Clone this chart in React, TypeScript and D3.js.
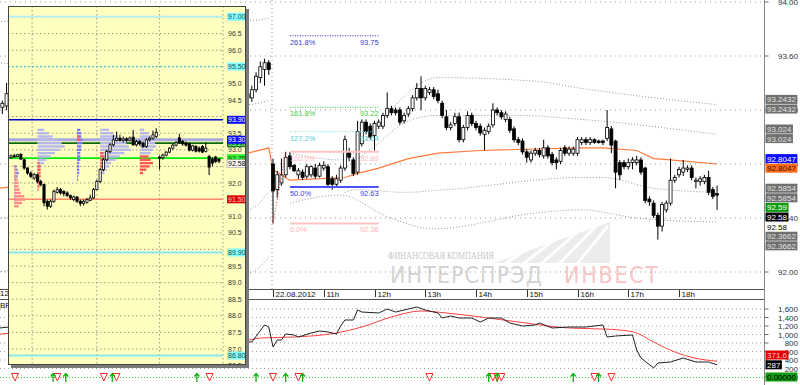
import React from "react";
import * as d3 from "d3";

const FONT = "'Liberation Sans', Arial, sans-serif";

// 5-minute bars of 22.08.2012, index 0 = 10:00; [open, high, low, close]
const dayBars: number[][] = [
  [92.80, 92.84, 92.36, 92.60], [92.61, 92.75, 92.55, 92.72], [92.66, 92.84, 92.64, 92.72], [92.72, 92.89, 92.70, 92.85],
  [92.86, 92.89, 92.76, 92.78], [92.79, 92.80, 92.74, 92.75], [92.72, 92.77, 92.69, 92.75], [92.74, 92.76, 92.68, 92.70],
  [92.71, 92.80, 92.69, 92.78], [92.72, 92.79, 92.70, 92.78], [92.77, 92.80, 92.69, 92.71], [92.71, 92.81, 92.70, 92.79],
  [92.77, 92.82, 92.75, 92.79], [92.78, 92.80, 92.63, 92.65], [92.69, 92.71, 92.61, 92.65], [92.65, 92.72, 92.63, 92.69],
  [92.68, 92.79, 92.66, 92.77], [92.77, 93.01, 92.75, 92.98], [92.89, 92.92, 92.82, 92.85], [92.83, 92.85, 92.71, 92.73],
  [92.74, 93.12, 92.72, 93.04], [92.95, 93.13, 92.93, 93.11], [93.11, 93.13, 93.02, 93.04], [93.08, 93.10, 92.98, 93.00],
  [93.01, 93.12, 92.90, 93.10], [93.08, 93.13, 93.06, 93.11], [93.08, 93.18, 93.06, 93.16], [93.16, 93.33, 93.14, 93.21],
  [93.21, 93.23, 93.16, 93.18], [93.20, 93.22, 93.16, 93.18], [93.20, 93.22, 93.09, 93.11], [93.12, 93.18, 93.10, 93.16],
  [93.17, 93.23, 93.15, 93.21], [93.21, 93.31, 93.19, 93.29], [93.29, 93.40, 93.27, 93.36], [93.36, 93.45, 93.20, 93.29],
  [93.29, 93.38, 93.27, 93.36], [93.33, 93.37, 93.31, 93.35], [93.35, 93.37, 93.28, 93.30], [93.32, 93.35, 93.25, 93.27],
  [93.25, 93.27, 93.14, 93.16], [93.15, 93.20, 93.05, 93.07], [93.07, 93.11, 93.05, 93.09], [93.10, 93.18, 93.08, 93.15],
  [93.15, 93.18, 92.96, 92.98], [92.98, 93.09, 92.96, 93.07], [93.07, 93.19, 93.05, 93.16], [93.16, 93.18, 93.08, 93.10],
  [93.10, 93.12, 93.05, 93.07], [93.08, 93.10, 93.01, 93.03], [93.02, 93.07, 92.90, 93.05], [93.04, 93.10, 93.02, 93.08],
  [93.09, 93.25, 93.07, 93.20], [93.20, 93.22, 93.16, 93.18], [93.18, 93.20, 93.13, 93.15], [93.13, 93.19, 93.11, 93.17],
  [93.13, 93.15, 93.03, 93.05], [93.06, 93.08, 92.96, 92.98], [92.98, 93.00, 92.94, 92.96], [92.97, 92.99, 92.87, 92.89],
  [92.89, 92.91, 92.81, 92.85], [92.83, 92.90, 92.81, 92.88], [92.88, 92.92, 92.86, 92.90], [92.90, 92.92, 92.85, 92.87],
  [92.86, 92.98, 92.84, 92.92], [92.92, 92.94, 92.84, 92.86], [92.87, 92.89, 92.79, 92.81], [92.83, 92.85, 92.76, 92.81],
  [92.82, 92.92, 92.80, 92.90], [92.92, 92.94, 92.86, 92.88], [92.88, 92.93, 92.86, 92.91], [92.88, 92.93, 92.86, 92.91],
  [92.88, 93.00, 92.86, 92.98], [92.96, 93.00, 92.94, 92.98], [92.98, 93.00, 92.94, 92.96], [92.96, 93.00, 92.94, 92.98],
  [92.98, 92.99, 92.95, 92.96], [92.97, 92.98, 92.95, 92.96], [92.97, 92.98, 92.94, 92.96], [92.99, 93.20, 92.97, 93.07],
  [93.06, 93.08, 92.88, 92.94], [92.97, 92.98, 92.62, 92.74], [92.81, 92.83, 92.68, 92.72], [92.81, 92.83, 92.76, 92.78],
  [92.78, 92.84, 92.76, 92.81], [92.81, 92.85, 92.76, 92.83], [92.81, 92.86, 92.79, 92.83], [92.83, 92.85, 92.72, 92.74],
  [92.77, 92.78, 92.51, 92.53], [92.54, 92.56, 92.49, 92.52], [92.51, 92.53, 92.40, 92.42], [92.42, 92.44, 92.24, 92.34],
  [92.34, 92.52, 92.30, 92.50], [92.46, 92.53, 92.44, 92.51], [92.51, 92.84, 92.49, 92.68], [92.68, 92.72, 92.66, 92.70],
  [92.72, 92.78, 92.70, 92.76], [92.74, 92.83, 92.71, 92.77], [92.76, 92.79, 92.74, 92.77], [92.77, 92.79, 92.68, 92.70],
  [92.67, 92.70, 92.62, 92.68], [92.67, 92.71, 92.64, 92.69], [92.67, 92.72, 92.65, 92.70], [92.70, 92.75, 92.57, 92.59],
  [92.61, 92.63, 92.54, 92.56], [92.58, 92.64, 92.46, 92.57],
];

// end of the previous session, visible right of the popup
const prevBarsStart = -6;
const prevBars: number[][] = [
  [93.32, 93.36, 93.27, 93.29], [93.29, 93.38, 93.26, 93.35], [93.35, 93.48, 93.33, 93.45],
  [93.44, 93.56, 93.40, 93.52], [93.50, 93.58, 93.38, 93.55], [93.55, 93.57, 93.46, 93.50],
];
// bars visible left of the popup
const earlyBarsStart = -64;
const earlyBars: number[][] = [[93.22, 93.27, 93.17, 93.25], [93.23, 93.40, 93.20, 93.32]];

// indicator lines, [bar index, value]
const maLine = [[-65, 92.62], [-62, 92.63], [-6, 92.88], [-1, 92.92], [0, 92.76], [4, 92.68], [17, 92.70], [20, 92.73],
  [25, 92.77], [32, 92.84], [39, 92.88], [49, 92.90], [73, 92.92], [78, 92.92], [86, 92.90], [90, 92.84], [94, 92.83], [105, 92.80]];
const bandsDay = [
  [[4, 92.88], [16, 92.83], [22, 92.98], [28, 93.20], [32, 93.33], [39, 93.44], [63, 93.41], [73, 93.36], [105, 93.24]],
  [[17, 92.77], [24, 92.93], [32, 93.12], [39, 93.16], [58, 93.16], [73, 93.13], [105, 93.02]],
  [[17, 92.59], [20, 92.61], [31, 92.59], [41, 92.61], [73, 92.70], [78, 92.70], [90, 92.62], [105, 92.59]],
  [[4, 92.51], [16, 92.57], [27, 92.41], [38, 92.32], [63, 92.44], [73, 92.46], [86, 92.40], [105, 92.37]],
];
const bandsPrev = [
  [[-65, 93.85], [-62, 93.86], [-6, 93.86], [-1, 93.88]],
  [[-65, 93.55], [-62, 93.54], [-6, 93.24], [-1, 93.27]],
  [[-65, 92.40], [-62, 92.40], [-6, 92.46], [-1, 92.59]],
  [[-65, 92.00], [-62, 92.01], [-6, 91.99], [-1, 92.11]],
];

// Fibonacci levels
const fibNames = ["261.8%", "161.8%", "127.2%", "100.0%", "50.0%", "0.0%"];
const fibPrices = [93.75, 93.22, 93.04, 92.89, 92.63, 92.36];
const fibSpan = [4, 25];
const fibTrend = [[0, 92.36], [3, 92.89]];

// time axis
const hourTicks = [10, 11, 12, 13, 14, 15, 16, 17, 18];
const hourLabels = ["22.08.2012", "11h", "12h", "13h", "14h", "15h", "16h", "17h", "18h"];
const priceTicks = [94.0, 93.6, 93.2, 92.8, 92.4, 92.0];

// right-axis price markers
const markerValues = [93.2432, 93.2432, 93.024, 93.024, 92.8047, 92.8047, 92.5854, 92.5854, 92.59, 92.58, 92.58, 92.3662, 92.3662];
const markerKinds = ["gray", "gray", "gray", "gray", "blue", "orange", "gray", "gray", "green", "black", "plain", "gray", "gray"];

// lower pane
const lowTicks = [1600, 1400, 1200, 1000, 800, 600, 400, 200, 0];
const lowBlack = [[-65, 1150], [-62, 1180], [-6, 824], [-5, 824], [-2, 1224], [-1, 1176], [0, 706], [1, 871], [2, 871], [3, 1012],
  [5, 988], [6, 941], [9, 1035], [11, 1082], [13, 1059], [15, 1012], [16, 1200], [17, 1341], [19, 1341], [20, 1576], [21, 1529],
  [25, 1506], [27, 1600], [29, 1529], [32, 1600], [34, 1647], [36, 1576], [39, 1506], [40, 1388], [42, 1435], [44, 1388],
  [47, 1388], [49, 1294], [51, 1388], [54, 1388], [56, 1271], [59, 1200], [62, 1224], [63, 1271], [66, 1153], [70, 1176],
  [74, 1176], [78, 1224], [79, 941], [81, 965], [85, 988], [86, 635], [87, 447], [90, 212], [91, 329], [94, 353], [97, 447],
  [100, 353], [103, 353], [105, 287]];
const lowRed = [[-65, 1000], [-62, 1030], [-6, 871], [-3, 918], [5, 941], [15, 1035], [21, 1176], [28, 1412], [35, 1553],
  [41, 1506], [51, 1388], [58, 1294], [70, 1153], [78, 1129], [82, 1106], [86, 1035], [90, 824], [95, 588], [100, 440], [105, 372]];
const lowMarkerValues = [371.6, 287, 0];
const lowMarkerText = ["371.6", "287", "0.00000"];
const lowMarkerKinds = ["red", "black", "green"];

// signals row
const sigDown = [-61, -51, -40, -37, -15, 0, 6, 37, 52, 53, 54, 76, 80];
const sigUp = [-52, -49, -38, -18, -4, 3, 7, 51, 53, 71, 77];

// popup (daily view)
const ovBars: number[][] = [
  [92.76, 92.86, 92.72, 92.82], [92.82, 92.88, 92.76, 92.80], [92.80, 92.88, 92.78, 92.85], [92.86, 92.90, 92.70, 92.72],
  [92.70, 92.72, 92.40, 92.45], [92.45, 92.47, 92.25, 92.30], [92.30, 92.35, 92.15, 92.20], [92.15, 92.30, 92.10, 92.25],
  [92.25, 92.28, 92.00, 92.05], [92.05, 92.10, 91.90, 91.95], [91.95, 91.98, 91.30, 91.40], [91.45, 91.50, 91.20, 91.30],
  [91.30, 91.50, 91.25, 91.45], [91.45, 91.80, 91.40, 91.75], [91.72, 91.88, 91.68, 91.80], [91.80, 91.85, 91.65, 91.70],
  [91.75, 91.78, 91.60, 91.68], [91.70, 91.75, 91.58, 91.62], [91.62, 91.65, 91.50, 91.55], [91.50, 91.62, 91.45, 91.58],
  [91.58, 91.60, 91.40, 91.45], [91.45, 91.50, 91.30, 91.38], [91.38, 91.50, 91.32, 91.45], [91.42, 91.55, 91.38, 91.50],
  [91.48, 91.65, 91.45, 91.55], [91.55, 91.85, 91.52, 91.80], [91.80, 92.10, 91.78, 92.05], [92.05, 92.45, 92.00, 92.40],
  [92.40, 92.75, 92.35, 92.70], [92.70, 93.00, 92.65, 92.95], [92.95, 93.20, 92.90, 93.15], [93.15, 93.45, 93.10, 93.30],
  [93.28, 93.55, 93.25, 93.35], [93.35, 93.45, 93.25, 93.28], [93.28, 93.40, 93.22, 93.33], [93.33, 93.38, 93.22, 93.28],
  [93.28, 93.40, 93.25, 93.35], [93.38, 93.60, 93.12, 93.15], [93.15, 93.30, 93.10, 93.25], [93.25, 93.30, 93.12, 93.18],
  [93.20, 93.25, 93.05, 93.10], [93.10, 93.35, 93.05, 93.30], [93.30, 93.40, 93.25, 93.35], [93.35, 93.58, 93.30, 93.45],
  [93.40, 93.65, 93.35, 93.52], [92.78, 92.82, 92.40, 92.76], [92.76, 92.88, 92.70, 92.84], [92.84, 92.96, 92.80, 92.93],
  [92.93, 93.08, 92.90, 93.05], [93.05, 93.18, 93.00, 93.14], [93.14, 93.26, 93.10, 93.22], [93.36, 93.48, 93.18, 93.22],
  [93.25, 93.30, 93.12, 93.18], [93.20, 93.25, 93.10, 93.14], [93.18, 93.22, 92.95, 92.99], [92.99, 93.15, 92.95, 93.12],
  [93.10, 93.14, 92.92, 92.96], [93.05, 93.10, 92.92, 92.96], [93.10, 93.14, 92.90, 92.93], [92.95, 93.22, 92.92, 93.05],
  [92.80, 92.85, 92.24, 92.48], [92.72, 92.78, 92.50, 92.60], [92.78, 92.82, 92.60, 92.65], [92.72, 92.75, 92.60, 92.66],
];
const ovSessions = [6.4, 26, 45];
const ovTicks = d3.range(86.5, 97.01, 0.5);
const ovLevelValues = [97.008, 95.508, 93.903, 93.303, 93.2, 92.75, 91.509, 89.908, 86.801];
const ovLabelValues = [97.008, 95.508, 93.903, 93.2, 93.303, 92.75, 92.58, 91.509, 89.908, 86.801];
const ovLabelKinds = ["cyan", "cyan", "blue", "dgreen", "blue", "lgreen", "plain", "red", "cyan", "cyan"];

// volume profiles inside the popup: anchor bar, top price, buy / sell volume per 0.1
const profileAnchors = [1, 8, 20, 27, 39];
const profileTops = [92.5, 93.6, 93.6, 93.6, 93.6];
const profileBuy = [
  [2, 3, 4, 3, 2, 2, 1, 1, 1, 1, 1, 1, 0],
  [6, 10, 14, 18, 22, 25, 20, 16, 12, 8, 6, 3, 2, 2, 1, 1, 1, 0, 0],
  [3, 4, 4, 5, 5, 4, 4, 3, 3, 3, 2, 2, 2, 2, 1, 1],
  [8, 12, 16, 20, 24, 26, 28, 22, 18, 14, 10, 8, 6, 4],
  [4, 8, 10, 12, 14, 15, 12, 10, 0, 0, 0, 0, 0, 0],
];
const profileSell = [
  [1, 2, 2, 2, 3, 4, 4, 5, 6, 9, 10, 7, 4],
  [0, 0, 0, 0, 0, 0, 0, 0, 0, 0, 2, 3, 3, 3, 3, 2, 2, 2, 1],
  [0, 0, 2, 3, 0, 0, 0, 0, 0, 0, 0, 0, 0, 0, 0, 0],
  [0, 0, 0, 0, 0, 0, 0, 3, 4, 4, 3, 3, 0, 0],
  [0, 0, 0, 0, 0, 0, 0, 0, 8, 10, 12, 9, 6, 3],
];

const boxStyle: Record<string, { bg: string; fg: string }> = {
  gray: { bg: "#6f6f6f", fg: "#e2e2e2" },
  blue: { bg: "#0a0aff", fg: "#ffffff" },
  orange: { bg: "#ff6a1a", fg: "#3a1a00" },
  green: { bg: "#0c9a0c", fg: "#ffffff" },
  black: { bg: "#000000", fg: "#ffffff" },
  plain: { bg: "#ffffff", fg: "#000000" },
  red: { bg: "#e00000", fg: "#ffc8c8" },
  lgreen: { bg: "#38f038", fg: "#006000" },
  dgreen: { bg: "#1e7a1e", fg: "#c8ffc8" },
  cyan: { bg: "#80ffff", fg: "#205050" },
};

function Candle({ x, b, y, w }: { x: number; b: number[]; y: (v: number) => number; w: number }) {
  const [o, h, l, c] = b;
  const up = c >= o;
  const top = y(Math.max(o, c));
  const bh = Math.max(1, y(Math.min(o, c)) - top);
  return (
    <g>
      <line x1={x} x2={x} y1={y(h)} y2={y(l)} stroke="#000" strokeWidth={1} />
      <rect x={x - w / 2} y={top} width={w} height={bh} fill={up ? "#fff" : "#000"} stroke="#000" strokeWidth={0.8} />
    </g>
  );
}

function stackDown(ys: number[], gap: number) {
  let prev = -Infinity;
  return ys.map((y) => (prev = Math.max(y, prev + gap)));
}
function stackUp(ys: number[], gap: number) {
  const out = ys.slice();
  for (let i = out.length - 2; i >= 0; i--) out[i] = Math.min(out[i], out[i + 1] - gap);
  return out;
}

export default function App() {
  const W = 800, H = 385;
  const axisX = 764.5;
  const x = d3.scaleLinear().domain([0, 96]).range([273, 679]);
  const y = d3.scaleLinear().domain([92, 94]).range([272, 2]);
  const yLow = d3.scaleLinear().domain([0, 1600]).range([377, 309]);
  const xOv = d3.scaleLinear().domain([0, ovBars.length - 1]).range([11, 219]);
  const yOv = d3.scaleLinear().domain([86.5, 97]).range([365.6, 17]);
  const ovLeft = 8, ovTop = 6, ovRight = 246, ovBottom = 365, ovAxis = 223;

  const priceLine = d3.line<number[]>().x((d) => x(d[0])).y((d) => y(d[1])).curve(d3.curveMonotoneX);
  const lowLine = d3.line<number[]>().x((d) => x(d[0])).y((d) => yLow(d[1]));
  const volW = d3.scaleLinear().domain([0, 10]).range([0, 11]);

  // stacked marker positions on the right axis
  const desired = markerValues.map((v, i) => {
    let k = i, n = 0;
    while (k > 0 && markerValues[k - 1] === v) k--;
    while (markerValues[k + n] === v) n++;
    return y(v) + (i - k - (n - 1) / 2) * 9.5;
  });
  const markerY = stackDown(desired, 9.6);
  const lowMarkerY = stackUp(lowMarkerValues.map((v) => yLow(v)), 9.8);
  const textW = (s: string) => s.replace(/[.,]/g, "").length * 4.45 + (s.match(/[.,]/g) || []).length * 2.2;

  // popup tick labels hidden behind level boxes
  const ovTickShown = ovTicks.filter((t) => ovLabelValues.every((v) => Math.abs(yOv(v) - yOv(t)) > 6));

  const fibColors = ["#3a3ad8", "#3ccc3c", "#55d0d0", "#ffb4b4", "#3c3cf0", "#ffb4b4"];
  const fibLineColors = ["#3030d0", "#30d030", "#60e0e0", "#ffc4c4", "#5050ff", "#ffc4c4"];

  return (
    <svg width={W} height={H} style={{ display: "block", position: "absolute", left: 0, top: 0, background: "#fff" }}
      fontFamily={FONT}>
      <defs>
        <clipPath id="ovclip"><rect x={ovLeft} y={ovTop} width={ovRight - ovLeft} height={ovBottom - ovTop} /></clipPath>
        <clipPath id="mainclip"><rect x={0} y={0} width={axisX} height={289} /></clipPath>
      </defs>
      <rect width={W} height={H} fill="#fff" />

      {/* watermark */}
      <g>
        <polygon points="494,263 610,263 610,222" fill="#ececec" />
        {[0, 1, 2, 3, 4].map((i) => (
          <line key={i} x1={505 + i * 18} y1={264} x2={560 + i * 12} y2={226} stroke="#fff" strokeWidth={3} />
        ))}
        <text x={388} y={259} fontFamily="'Liberation Serif', serif" fontSize={10} fill="#c6c6c6" textLength={106} lengthAdjust="spacingAndGlyphs">ФИНАНСОВАЯ КОМПАНИЯ</text>
        <text x={390} y={283} fontFamily="'Liberation Sans Narrow', 'DejaVu Sans Condensed', sans-serif" fontSize={23} fill="#d4d4d4" textLength={152} lengthAdjust="spacing">ИНТЕРСПРЭД</text>
        <text x={564} y={283} fontFamily="'Liberation Sans Narrow', 'DejaVu Sans Condensed', sans-serif" fontSize={23} fill="#f8c6c6" textLength={94} lengthAdjust="spacing">ИНВЕСТ</text>
      </g>

      {/* main grid */}
      {priceTicks.map((t) => (
        <line key={t} x1={0} x2={axisX} y1={y(t)} y2={y(t)} stroke="#9a9a9a" strokeDasharray="1,4" />
      ))}
      <line x1={x(0) - 1} x2={x(0) - 1} y1={0} y2={289} stroke="#9a9a9a" strokeDasharray="1,3" />

      <g clipPath="url(#mainclip)">
        {bandsPrev.concat(bandsDay).map((b, i) => (
          <path key={i} d={priceLine(b) || ""} fill="none" stroke="#8a8a8a" strokeWidth={0.9} strokeDasharray="1,2" />
        ))}
        <path d={d3.line<number[]>().x((d) => x(d[0])).y((d) => y(d[1]))(maLine) || ""} fill="none" stroke="#ff7a3a" strokeWidth={1.2} />
        {earlyBars.map((b, i) => <Candle key={"e" + i} x={x(earlyBarsStart + i)} b={b} y={y} w={3} />)}
        {prevBars.map((b, i) => <Candle key={"p" + i} x={x(prevBarsStart + i)} b={b} y={y} w={3} />)}
        {dayBars.map((b, i) => <Candle key={i} x={x(i)} b={b} y={y} w={3} />)}
        <path d={`M${x(fibTrend[0][0])},${y(fibTrend[0][1])}L${x(fibTrend[1][0])},${y(fibTrend[1][1])}`} stroke="#ff2020" strokeDasharray="1,2" fill="none" />
        {fibNames.map((n, i) => {
          const yy = y(fibPrices[i]);
          const dotted = i < 3;
          return (
            <g key={n}>
              <line x1={x(fibSpan[0])} x2={x(fibSpan[1])} y1={yy} y2={yy} stroke={fibLineColors[i]}
                strokeWidth={dotted ? 1 : 2} strokeDasharray={dotted ? "1,1.5" : undefined} />
              <text x={x(fibSpan[0])} y={yy + 9} fontSize={7.5} fill={fibColors[i]}>{n}</text>
              <text x={x(fibSpan[1])} y={yy + 9} fontSize={7.5} fill={fibColors[i]} textAnchor="end">{fibPrices[i].toFixed(2)}</text>
            </g>
          );
        })}
      </g>

      {/* date axis strip */}
      <line x1={0} x2={axisX} y1={289.5} y2={289.5} stroke="#555" />
      <line x1={0} x2={axisX} y1={299.5} y2={299.5} stroke="#555" />
      {hourTicks.map((h, i) => {
        const xx = Math.round(x((h - 10) * 12)) + 0.5;
        return (
          <g key={h}>
            <line x1={xx} x2={xx} y1={290} y2={297} stroke="#333" />
            <text x={xx + 2} y={297} fontSize={8} fill="#111">{hourLabels[i]}</text>
          </g>
        );
      })}
      <text x={0} y={296} fontSize={8} fill="#111">12</text>
      <text x={0} y={308} fontSize={8} fill="#111">BR</text>

      {/* lower pane */}
      {lowTicks.filter((t) => t > 0).map((t) => (
        <line key={t} x1={0} x2={axisX} y1={yLow(t)} y2={yLow(t)} stroke="#a0a0a0" strokeDasharray="1,3" />
      ))}
      <path d={d3.line<number[]>().x((d) => x(d[0])).y((d) => yLow(d[1])).curve(d3.curveMonotoneX)(lowRed) || ""} fill="none" stroke="#ff4040" strokeWidth={1} />
      <path d={lowLine(lowBlack) || ""} fill="none" stroke="#222" strokeWidth={1} />
      <line x1={0} x2={axisX} y1={377.5} y2={377.5} stroke="#30cc30" strokeDasharray="1,2" />
      {sigDown.map((t, i) => {
        const xx = x(t);
        return <path key={"d" + i} d={`M${xx - 3.5},373.5L${xx + 3.5},373.5L${xx},381Z`} fill="#fff" stroke="#ff2a2a" strokeWidth={1} />;
      })}
      {sigUp.map((t, i) => {
        const xx = x(t);
        return <path key={"u" + i} d={`M${xx},382V374M${xx - 2.5},376.5L${xx},373.5L${xx + 2.5},376.5`} fill="none" stroke="#10b010" strokeWidth={1.3} />;
      })}

      {/* right axis */}
      <line x1={axisX} x2={axisX} y1={0} y2={H} stroke="#888" />
      {priceTicks.map((t) => (
        <g key={t}>
          <line x1={axisX} x2={axisX + 4} y1={y(t)} y2={y(t)} stroke="#666" />
          <text x={798} y={y(t) + 3} fontSize={8} fill="#333" textAnchor="end">{t.toFixed(2)}</text>
        </g>
      ))}
      {lowTicks.map((t) => (
        <g key={t}>
          <line x1={axisX} x2={axisX + 4} y1={yLow(t)} y2={yLow(t)} stroke="#666" />
          <text x={798} y={yLow(t) + 3} fontSize={8} fill="#333" textAnchor="end">{d3.format(",")(t)}</text>
        </g>
      ))}
      {markerValues.map((v, i) => {
        const s = boxStyle[markerKinds[i]];
        const txt = String(v);
        const yy = markerY[i];
        return (
          <g key={i}>
            <rect x={axisX + 1} y={yy - 4.5} width={textW(txt) + 3} height={9} fill={s.bg} />
            <text x={axisX + 2.5} y={yy + 3} fontSize={8} fill={s.fg}>{txt}</text>
          </g>
        );
      })}
      {lowMarkerValues.map((v, i) => {
        const s = boxStyle[lowMarkerKinds[i]];
        const txt = lowMarkerText[i];
        const yy = lowMarkerY[i];
        return (
          <g key={i}>
            <rect x={axisX + 1} y={yy - 4.5} width={textW(txt) + 3} height={9} fill={s.bg} />
            <text x={axisX + 2.5} y={yy + 3} fontSize={8} fill={lowMarkerKinds[i] === "green" ? "#000" : s.fg}>{txt}</text>
          </g>
        );
      })}

      {/* popup with daily view */}
      <rect x={ovLeft + 3} y={ovTop + 3} width={ovRight - ovLeft} height={ovBottom - ovTop} fill="#7a7a7a" />
      <rect x={ovLeft} y={ovTop} width={ovRight - ovLeft} height={ovBottom - ovTop} fill="#ffffc0" />
      <g clipPath="url(#ovclip)">
        {ovTicks.map((t) => (
          <line key={t} x1={ovLeft} x2={ovAxis} y1={yOv(t)} y2={yOv(t)} stroke="#9a9a80" strokeDasharray="1.5,2.5" />
        ))}
        {ovSessions.map((s) => (
          <line key={s} x1={xOv(s)} x2={xOv(s)} y1={ovTop} y2={ovBottom} stroke="#9a9a80" strokeDasharray="1.5,2.5" />
        ))}
        <line x1={ovAxis} x2={ovAxis} y1={ovTop} y2={ovBottom} stroke="#9a9a80" strokeDasharray="1.5,2.5" />
        {ovLevelValues.map((v, i) => {
          const st = [
            { c: "#b8f0f0", w: 2 }, { c: "#40c8d8", w: 1, d: "2,2" }, { c: "#0000d0", w: 1.6 }, { c: "#a8acdc", w: 3 },
            { c: "#0a6a0a", w: 1.6 }, { c: "#00ee00", w: 1.6 }, { c: "#ff8868", w: 1.6 }, { c: "#88e8f0", w: 2 }, { c: "#88e8f0", w: 2 },
          ][i] as { c: string; w: number; d?: string };
          return <line key={v} x1={ovLeft} x2={ovAxis} y1={yOv(v)} y2={yOv(v)} stroke={st.c} strokeWidth={st.w} strokeDasharray={st.d} />;
        })}
        {profileAnchors.map((a, p) => (
          <g key={p}>
            {profileBuy[p].map((v, j) => {
              const pr = profileTops[p] - j * 0.1;
              const s = profileSell[p][j];
              const x0 = xOv(a);
              return (
                <g key={j}>
                  {v > 0 && <rect x={x0} y={yOv(pr) - 1.2} width={volW(v)} height={2.4}
                    fill={p === 0 || p === 2 ? "#7c7cf4" : "#b8b8f0"} />}
                  {s > 0 && <rect x={x0} y={yOv(pr) - 1.2} width={volW(s)} height={2.4} fill={p === 0 ? "#ff8a8a" : "#ff5a5a"} />}
                </g>
              );
            })}
          </g>
        ))}
        {ovBars.map((b, i) => <Candle key={i} x={xOv(i)} b={b} y={yOv} w={2.2} />)}
        {ovTickShown.map((t) => (
          <text key={t} x={ovAxis + 5} y={yOv(t) + 2.5} fontSize={7} fill="#333">{t.toFixed(1)}</text>
        ))}
        {ovLabelValues.map((v, i) => {
          const s = boxStyle[ovLabelKinds[i]];
          const yy = yOv(v);
          const txt = v.toFixed(v === 92.75 || v === 92.58 ? 2 : 3);
          return (
            <g key={i}>
              <rect x={ovAxis + 4} y={yy - 4} width={24} height={8} fill={s.bg}
                stroke={ovLabelKinds[i] === "plain" ? "#999" : "none"} strokeWidth={0.6} />
              <text x={ovAxis + 5} y={yy + 2.6} fontSize={7} fill={s.fg}>{txt}</text>
            </g>
          );
        })}
      </g>
      <rect x={ovLeft + 0.5} y={ovTop + 0.5} width={ovRight - ovLeft - 1} height={ovBottom - ovTop - 1} fill="none" stroke="#444" />
    </svg>
  );
}
